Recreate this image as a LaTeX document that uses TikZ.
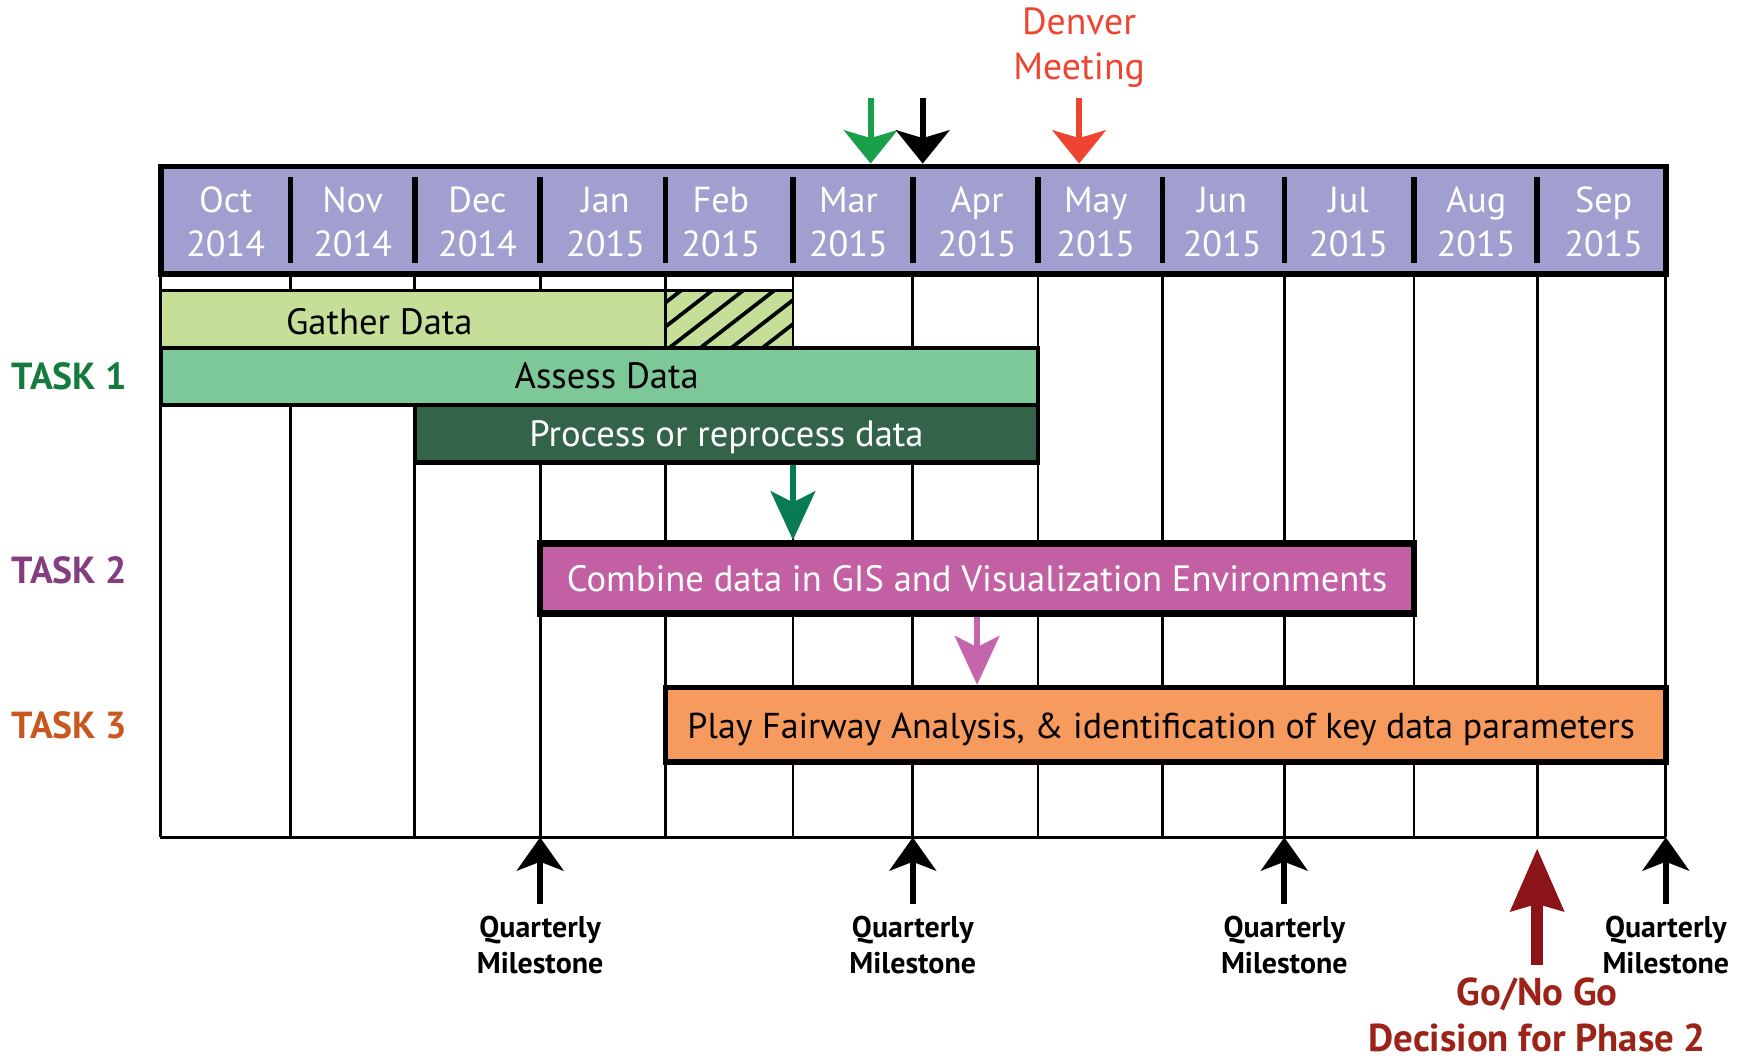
\documentclass[tikz,border=0pt]{standalone}
\usepackage{fontspec}
\setmainfont{PT Sans}
\usetikzlibrary{arrows.meta}
\definecolor{hdrfill}{RGB}{160,159,208}
\definecolor{gatherc}{RGB}{197,223,153}
\definecolor{assessc}{RGB}{125,200,152}
\definecolor{processc}{RGB}{51,100,74}
\definecolor{midgreen}{RGB}{7,124,82}
\definecolor{combinec}{RGB}{195,96,164}
\definecolor{magarrow}{RGB}{197,102,173}
\definecolor{playc}{RGB}{246,154,94}
\definecolor{topgreen}{RGB}{26,160,74}
\definecolor{denverred}{RGB}{238,69,48}
\definecolor{goarrow}{RGB}{138,20,24}
\definecolor{gotext}{RGB}{155,35,23}
\definecolor{taskone}{RGB}{22,122,62}
\definecolor{tasktwo}{RGB}{131,61,128}
\definecolor{taskthree}{RGB}{200,88,31}
\tikzset{
  month/.style={text=white, align=center, font=\fontsize{16.3}{20}\selectfont, inner sep=0pt},
  gridline/.style={line width=1.25pt},
  divider/.style={line width=2.5pt},
  barbox/.style={draw=black, inner sep=0pt, text depth=0pt},
  bartext/.style={font=\fontsize{16.5}{19}\selectfont, inner sep=0pt, text depth=0pt},
  tasklabel/.style={font=\bfseries\fontsize{17}{20}\selectfont, anchor=west, inner sep=0pt},
  mslabel/.style={font=\bfseries\fontsize{13.5}{16}\selectfont, align=center, inner sep=0pt},
  toparrow/.style={line width=2.8pt, -{Stealth[length=15pt, width=24pt, inset=3.5pt]}},
  msarrow/.style={line width=2.8pt, -{Stealth[length=15pt, width=21pt, inset=4pt]}},
  midarrow/.style={line width=3pt, -{Stealth[length=22pt, width=20pt, inset=5pt]}},
  goarrowst/.style={line width=5.2pt, goarrow, -{Stealth[length=28pt, width=23.5pt, inset=3pt]}}
}
\begin{document}
\begin{tikzpicture}[x=0.5pt,y=-0.5pt]
\useasboundingbox (0,0) rectangle (1568,955);
% grid verticals
\foreach \xx in {145,262,374,487,600,715,823,936,1048,1158,1275,1386,1502}
  \draw[gridline] (\xx,247) -- (\xx,755);
\draw[gridline] (144.4,755) -- (1502.6,755);
\coordinate (gb) at (0,755);
% header
\node[draw=black, line width=2.5pt, fill=hdrfill, minimum width=678.5pt, minimum height=48.5pt, inner sep=0pt] (hdr) at (823.5,198.5) {};
\foreach \xx in {262,374,487,600,715,823,936,1048,1158,1275,1386}
  \draw[divider] (\xx,160) -- (\xx,237);
\node[month] (m1) at (203.5,200) {Oct\\2014};
\node[month] (m2) at (318,200) {Nov\\2014};
\node[month] (m3) at (430.5,200) {Dec\\2014};
\node[month] (m4) at (546,200) {Jan\\2015};
\node[month] (m5) at (650,200) {Feb\\2015};
\node[month] (m6) at (765,200) {Mar\\2015};
\node[month] (m7) at (881,200) {Apr\\2015};
\node[month] (m8) at (988,200) {May\\2015};
\node[month] (m9) at (1102,200) {Jun\\2015};
\node[month] (m10) at (1216,200) {Jul\\2015};
\node[month] (m11) at (1331,200) {Aug\\2015};
\node[month] (m12) at (1446,200) {Sep\\2015};
% Gather data
\node[barbox, line width=1pt, fill=gatherc, minimum width=285pt, minimum height=26pt] (gather) at (430,288) {};
\begin{scope}
  \clip (600,262) rectangle (715,314);
  \foreach \hx in {547,575,603,631,659,687}
    \draw[line width=1.7pt] (\hx,314) -- (\hx+67,262);
\end{scope}
\draw[line width=1pt] (600,262) rectangle (715,314);
\node[bartext] (gathert) at (342,290) {Gather Data};
% Assess data
\node[barbox, line width=2pt, fill=assessc, minimum width=395.5pt, minimum height=25.5pt] (assess) at (540.5,339.5) {};
\node[bartext] (assesst) at (547,339) {Assess Data};
% Process
\node[barbox, line width=2pt, fill=processc, minimum width=281pt, minimum height=26pt, text=white, font=\fontsize{16.5}{19}\selectfont] (proc) at (655,391) {Process or reprocess data};
% Combine
\node[barbox, line width=3pt, fill=combinec, minimum width=394pt, minimum height=31.5pt, text=white, font=\fontsize{16.5}{19}\selectfont] (comb) at (881,521.5) {Combine data in GIS and Visualization Environments};
% Play fairway
\node[barbox, line width=2.5pt, fill=playc, minimum width=451pt, minimum height=33.5pt] (play) at (1051,653.5) {};
\node[bartext, font=\fontsize{16.2}{19}\selectfont] (playt) at (1047,654) {Play Fairway Analysis, \& identification of key data parameters};
% mid arrows
\coordinate (gcol) at (715,0);
\draw[midarrow, midgreen] (proc.south -| gcol) -- (comb.north -| gcol);
\draw[midarrow, magarrow] (comb.south) -- (comb.south |- play.north);
% task labels
\node[tasklabel, text=taskone] (t1) at (10,339) {TASK 1};
\node[tasklabel, text=tasktwo] (t2) at (10,514) {TASK 2};
\node[tasklabel, text=taskthree] (t3) at (10,654) {TASK 3};
% top arrows
\coordinate (ga) at (785,88);
\coordinate (ba) at (832,88);
\coordinate (ra) at (973,88);
\draw[toparrow, topgreen] (ga) -- (ga |- hdr.north);
\draw[toparrow, black] (ba) -- (ba |- hdr.north);
\node[text=denverred, align=center, font=\fontsize{17}{20.5}\selectfont, inner sep=0pt] (denver) at (973,43) {Denver\\Meeting};
\draw[toparrow, denverred] (ra) -- (ra |- hdr.north);
% quarterly milestones
\foreach \nm/\xx in {q1/487,q2/823,q3/1158,q4/1502}{
  \node[mslabel] (\nm) at (\xx,852) {Quarterly\\Milestone};
  \coordinate (\nm s) at (\xx,815);
  \draw[msarrow] (\nm s) -- (\nm s |- gb);
}
% go/no go
\node[font=\bfseries\fontsize{17.5}{20.5}\selectfont, text=gotext, align=center, inner sep=0pt] (go) at (1386,915) {Go/No Go\\Decision for Phase 2};
\coordinate (gos) at (1386,870);
\coordinate (got) at (1386,765);
\draw[goarrowst] (gos) -- (got);
\end{tikzpicture}
\end{document}
